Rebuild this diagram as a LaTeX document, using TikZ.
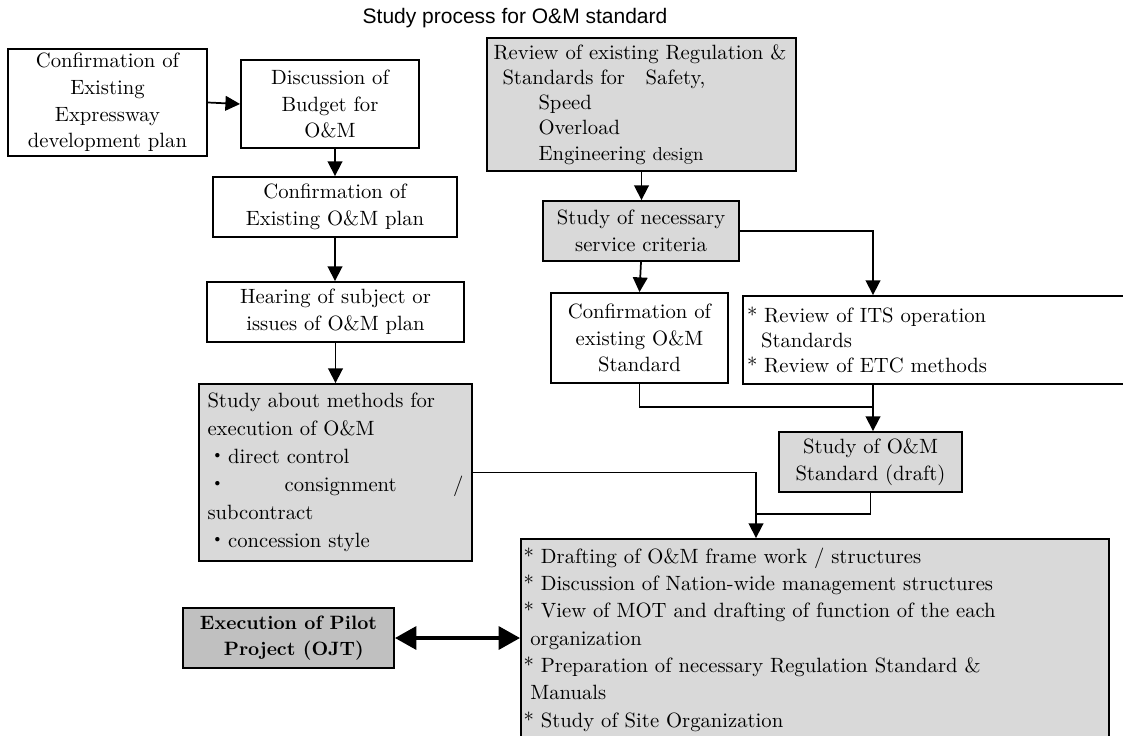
\documentclass[tikz,border=0pt]{standalone}
\usepackage{fontspec}
\newfontfamily\titlefont{Liberation Sans}
\newfontfamily\bodyfont{lmroman10-regular.otf}
\newfontfamily\boldfont{lmroman10-bold.otf}
\newfontfamily\cjk{Noto Sans CJK JP}
\usetikzlibrary{arrows.meta}
\definecolor{boxgray}{HTML}{D9D9D9}
\definecolor{pilotgray}{HTML}{C0C0C0}

\begin{document}
\begin{tikzpicture}[x=0.75pt,y=-0.75pt,
  every node/.style={font=\bodyfont\fontsize{15.5}{20}\selectfont},
  plain/.style={draw, line width=1.4pt, inner sep=0pt, align=center},
  shaded/.style={plain, fill=boxgray},
  titlenode/.style={font=\titlefont\fontsize{15.75}{18}\selectfont},
  flow/.style={line width=1.3pt, -{Triangle[length=11pt,width=11pt]}},
  link/.style={line width=1.3pt},
  both/.style={line width=3pt, {Triangle[length=16pt,width=17pt]}-{Triangle[length=16pt,width=17pt]}},
]
\path[use as bounding box] (0,0) rectangle (1123,735);
\clip (0,0) rectangle (1123,735);

\node[titlenode] (title) at (515,18) {Study process for O\&M standard};

% left column: planning and budget
\node[plain, minimum width=149.25pt, minimum height=80.25pt] (A) at (107.5,102.5)
  {Confirmation of\\Existing\\Expressway\\development plan};
\node[plain, minimum width=133.5pt, minimum height=66pt] (B) at (330,104)
  {Discussion of\\Budget for\\O\&M};
\node[plain, minimum width=183pt, minimum height=45pt] (C) at (335,207)
  {Confirmation of\\Existing O\&M plan};
\node[plain, minimum width=192.75pt, minimum height=45pt] (D) at (335.5,312)
  {Hearing of subject or\\issues of O\&M plan};
\node[shaded, minimum width=204.75pt, minimum height=132.75pt, align=left,
      text width=192pt, font=\bodyfont\fontsize{15.5}{21}\selectfont] (E) at (335.5,472.5)
  {Study about methods for\\execution of O\&M\\{\cjk ・}direct control\\{\cjk ・}\hfill consignment\hfill /\\subcontract\\{\cjk ・}concession style};

% right column: standards
\node[shaded, minimum width=231.75pt, minimum height=99.75pt, align=left,
      text width=222pt, font=\bodyfont\fontsize{15.5}{18.9}\selectfont] (F) at (641.5,104.5)
  {Review of existing Regulation \&\\\hspace*{6.75pt}Standards for\hspace{1em}Safety,\\\hspace*{33.75pt}Speed\\\hspace*{33.75pt}Overload\\\hspace*{33.75pt}Engineering {\fontsize{14}{15}\selectfont design}};
\node[shaded, minimum width=147pt, minimum height=45pt] (G) at (641,231)
  {Study of necessary\\service criteria};
\node[plain, minimum width=132.75pt, minimum height=67.5pt] (H) at (639.5,338)
  {Confirmation of\\existing O\&M\\Standard};
\node[plain, minimum width=294pt, minimum height=66pt, align=left,
      text width=288pt, font=\bodyfont\fontsize{15.5}{18.75}\selectfont] (I) at (939,340)
  {{*} Review of ITS operation\\\hspace*{10.5pt}Standards\\{*} Review of ETC methods};
\node[shaded, minimum width=137.25pt, minimum height=45pt] (J) at (870.5,462)
  {Study of O\&M\\Standard (draft)};
\node[shaded, minimum width=441pt, minimum height=150.75pt, align=left,
      text width=437pt, font=\bodyfont\fontsize{15.5}{20.5}\selectfont] (K) at (815,639.5)
  {{*} Drafting of O\&M frame work / structures\\{*} Discussion of Nation-wide management structures\\{*} View of MOT and drafting of function of the each\\\hspace*{5pt}organization\\{*} Preparation of necessary Regulation Standard \&\\\hspace*{5pt}Manuals\\{*} Study of Site Organization};
\node[plain, fill=pilotgray, minimum width=158.25pt, minimum height=45pt,
      font=\boldfont\fontsize{14.5}{19}\selectfont] (L) at (288.5,638)
  {Execution of Pilot\\\hspace*{8pt}Project (OJT)};

% junction points of the merging lines
\coordinate (spine) at (873,407);
\coordinate (merge) at (756,514);

% connectors
\draw[flow] (A.east) -- (B.west);
\draw[flow] (B.south -| C.north) -- (C.north);
\draw[flow] (C.south) -- (C.south |- D.north);
\draw[flow] (D.south) -- (D.south |- E.north);
\draw[flow] (F.south) -- (F.south |- G.north);
\draw[flow] (G.south) -- (H.north);
\draw[flow] (G.east) -| (I.north -| spine);
\draw[link] (H.south) |- (spine);
\draw[flow] (I.south -| spine) -- (J.north -| spine);
\draw[link] (J.south) |- (merge);
\draw[flow] (E.east) -| (K.north -| merge);
\draw[both] (L.east) -- (L.east -| K.west);
\end{tikzpicture}
\end{document}
